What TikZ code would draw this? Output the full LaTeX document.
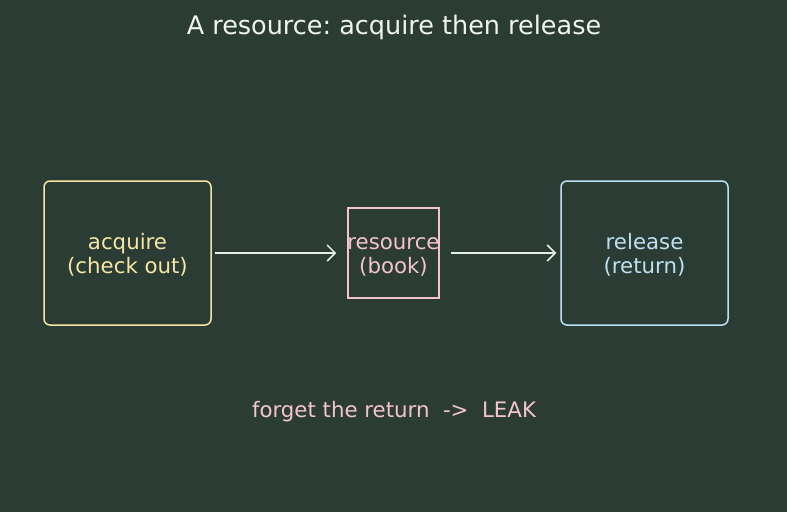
\documentclass[tikz,border=0pt]{standalone}
\usepackage{fontspec}
\setmainfont{DejaVu Sans}
\usetikzlibrary{arrows.meta}
\definecolor{bgcol}{HTML}{2B3C35}
\definecolor{titlecol}{HTML}{EEF4EE}
\definecolor{acqcol}{HTML}{F6E6A2}
\definecolor{rescol}{HTML}{F4C4CE}
\definecolor{relcol}{HTML}{BCE2F2}
\definecolor{arrcol}{HTML}{E4F0E4}
\frenchspacing
\newcommand{\toprule}{\rule{0pt}{20pt}}

\begin{document}
\begin{tikzpicture}[x=1pt,y=-1pt]
    \tikzset{vertex/.style = {shape=rectangle, draw, line width=1.5pt, align=center,
        inner sep=0pt, font=\fontsize{21.3}{24}\selectfont}}
    \tikzset{edge/.style = {draw=arrcol, line width=1.5pt, -{Straight Barb[length=8pt,width=16pt,line width=1.5pt]}}}

    \fill[bgcol] (0,0) rectangle (787,512);
    \useasboundingbox (0,0) rectangle (787,512);

    % title
    \node[text=titlecol, font=\fontsize{25.5}{29}\selectfont] (title) at (394,27) {A resource: acquire then release};

    % vertices
    \node[vertex, draw=acqcol, text=acqcol, rounded corners=6pt, minimum width=167pt, minimum height=144pt] (acq) at (127.5,253) {\toprule acquire\\(check out)};
    \node[vertex, draw=rescol, text=rescol, text width=95pt, inner xsep=-2pt, minimum height=90pt] (res) at (393.5,253) {\toprule resource\\(book)};
    \node[vertex, draw=relcol, text=relcol, rounded corners=6pt, minimum width=167pt, minimum height=144pt] (rel) at (644.5,253) {\toprule release\\(return)};

    % edges
    \draw[edge] ([xshift=3pt]acq.east) -- ([xshift=-11pt]res.west);
    \draw[edge] ([xshift=11pt]res.east) -- ([xshift=-4pt]rel.west);

    % note
    \node[text=rescol, font=\fontsize{21.3}{24}\selectfont] (note) at (394,412) {forget the return\ \ ->\ \ LEAK};
\end{tikzpicture}
\end{document}
